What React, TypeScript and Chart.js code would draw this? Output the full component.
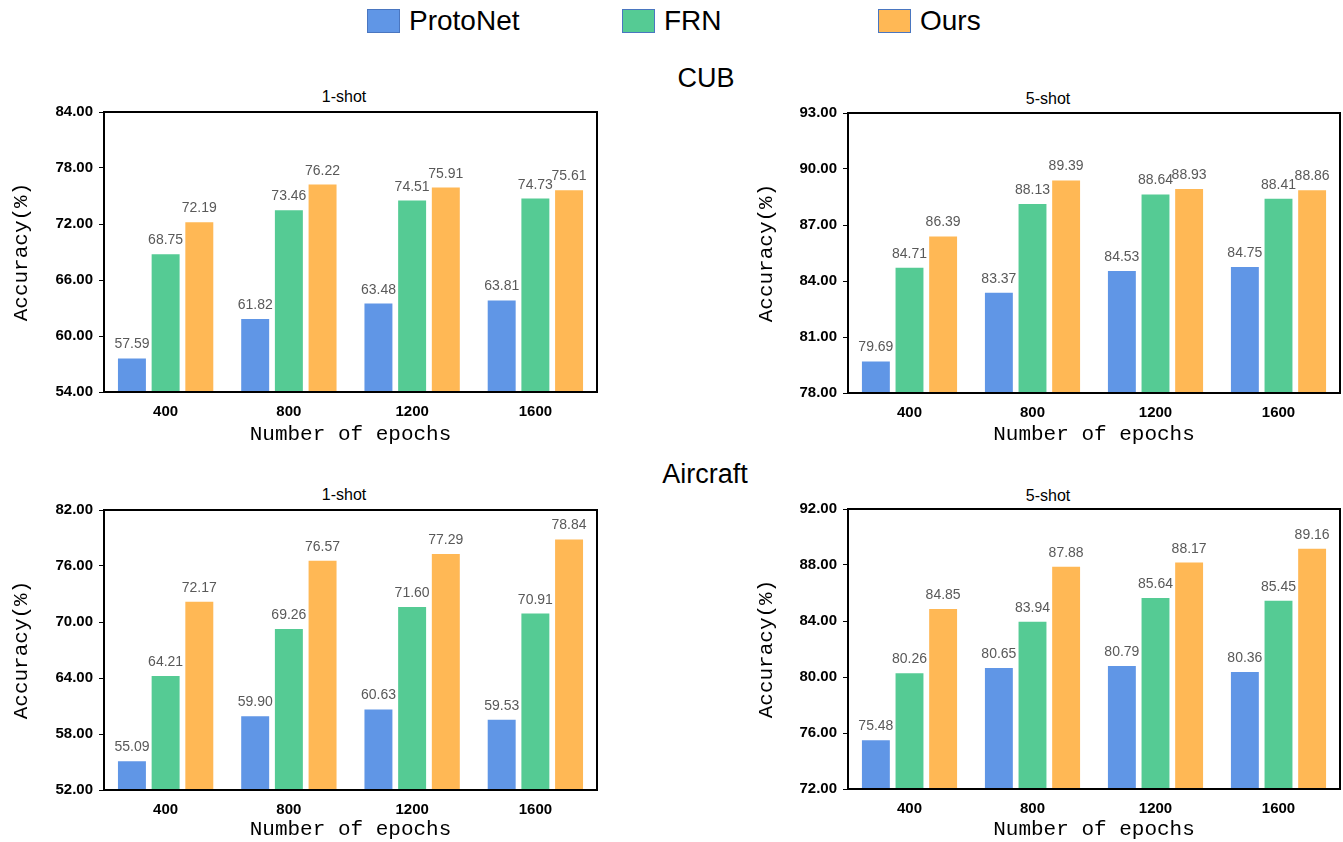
import React, { useEffect, useRef } from "react";
import { Chart, registerables } from "chart.js";
Chart.register(...registerables);

// ---- data ----
const categories = ["400", "800", "1200", "1600"];
const seriesNames = ["ProtoNet", "FRN", "Ours"];
const seriesColors = ["#6096E6", "#55CB94", "#FFB855"];

const cub1Proto = [57.59, 61.82, 63.48, 63.81];
const cub1FRN = [68.75, 73.46, 74.51, 74.73];
const cub1Ours = [72.19, 76.22, 75.91, 75.61];

const cub5Proto = [79.69, 83.37, 84.53, 84.75];
const cub5FRN = [84.71, 88.13, 88.64, 88.41];
const cub5Ours = [86.39, 89.39, 88.93, 88.86];

const air1Proto = [55.09, 59.9, 60.63, 59.53];
const air1FRN = [64.21, 69.26, 71.6, 70.91];
const air1Ours = [72.17, 76.57, 77.29, 78.84];

const air5Proto = [75.48, 80.65, 80.79, 80.36];
const air5FRN = [80.26, 83.94, 85.64, 85.45];
const air5Ours = [84.85, 87.88, 88.17, 89.16];

const cub1Range = [54, 84, 6];
const cub5Range = [78, 93, 3];
const air1Range = [52, 82, 6];
const air5Range = [72, 92, 4];

const xTitle = "Number of epochs";
const yTitle = "Accuracy(%)";

const MONO = '"Liberation Mono", "DejaVu Sans Mono", monospace';
const SANS = '"Liberation Sans", Arial, sans-serif';

const valueLabels = {
  id: "valueLabels",
  afterDatasetsDraw(chart: any) {
    const ctx = chart.ctx;
    ctx.save();
    ctx.font = `14px ${SANS}`;
    ctx.fillStyle = "#595959";
    ctx.textAlign = "center";
    ctx.textBaseline = "alphabetic";
    chart.data.datasets.forEach((ds: any, i: number) => {
      const meta = chart.getDatasetMeta(i);
      meta.data.forEach((bar: any, j: number) => {
        ctx.fillText(Number(ds.data[j]).toFixed(2), bar.x, bar.y - 10);
      });
    });
    ctx.restore();
  },
};

const frame = {
  id: "frame",
  afterDraw(chart: any) {
    const { left, top, right, bottom } = chart.chartArea;
    const ctx = chart.ctx;
    ctx.save();
    ctx.strokeStyle = "#000";
    ctx.lineWidth = 2;
    ctx.strokeRect(left, top, right - left, bottom - top);
    ctx.restore();
  },
};

type Panel = {
  left: number;
  top: number;
  width: number;
  height: number;
  yw: number;
  xh: number;
  pt: number;
  pr: number;
  xtpb: number;
  range: number[];
  data: number[][];
};

function BarPanel({ p }: { p: Panel }) {
  const ref = useRef<HTMLCanvasElement>(null);
  useEffect(() => {
    if (!ref.current) return;
    const chart = new Chart(ref.current, {
      type: "bar",
      data: {
        labels: categories,
        datasets: p.data.map((d, i) => ({
          label: seriesNames[i],
          data: d,
          backgroundColor: seriesColors[i],
          borderWidth: 0,
          categoryPercentage: 0.82,
          barPercentage: 0.83,
        })),
      },
      options: {
        responsive: false,
        animation: false,
        devicePixelRatio: 1,
        layout: { padding: { top: p.pt, right: p.pr, left: 0, bottom: 0 } },
        plugins: { legend: { display: false }, tooltip: { enabled: false }, title: { display: false } },
        scales: {
          x: {
            grid: { display: false, drawTicks: true, tickLength: 8 },
            border: { display: false },
            ticks: { color: "#000", font: { family: SANS, size: 15, weight: "bold" }, padding: 3 },
            title: {
              display: true,
              text: xTitle,
              color: "#000",
              font: { family: MONO, size: 21 },
              padding: { top: 0, bottom: p.xtpb },
            },
            afterFit: (s: any) => {
              s.height = p.xh;
            },
          },
          y: {
            min: p.range[0],
            max: p.range[1],
            grid: { display: true, drawOnChartArea: false, drawTicks: true, tickLength: 5, color: "#000", lineWidth: 1 },
            border: { display: false },
            ticks: {
              stepSize: p.range[2],
              color: "#000",
              padding: 6,
              font: { family: SANS, size: 15, weight: "bold" },
              callback: (v: any) => Number(v).toFixed(2),
            },
            title: {
              display: true,
              text: yTitle,
              color: "#000",
              font: { family: MONO, size: 21 },
              padding: { top: 9, bottom: 0 },
            },
            afterFit: (s: any) => {
              s.width = p.yw;
            },
          },
        },
      } as any,
      plugins: [valueLabels, frame],
    });
    return () => chart.destroy();
  }, []);
  return (
    <canvas
      ref={ref}
      width={p.width}
      height={p.height}
      style={{ position: "absolute", left: p.left, top: p.top, width: p.width, height: p.height }}
    />
  );
}

const panels: { p: Panel; sub: string; subX: number; subY: number }[] = [
  {
    p: { left: 0, top: 90, width: 610, height: 360, yw: 104, xh: 58, pt: 22, pr: 13, xtpb: 3, range: cub1Range, data: [cub1Proto, cub1FRN, cub1Ours] },
    sub: "1-shot",
    subX: 344,
    subY: 97,
  },
  {
    p: { left: 745, top: 90, width: 598, height: 360, yw: 103, xh: 57, pt: 23, pr: 3, xtpb: 3, range: cub5Range, data: [cub5Proto, cub5FRN, cub5Ours] },
    sub: "5-shot",
    subX: 1048,
    subY: 99,
  },
  {
    p: { left: 0, top: 485, width: 610, height: 357, yw: 104, xh: 52, pt: 25, pr: 13, xtpb: 0, range: air1Range, data: [air1Proto, air1FRN, air1Ours] },
    sub: "1-shot",
    subX: 344,
    subY: 495,
  },
  {
    p: { left: 745, top: 485, width: 598, height: 357, yw: 103, xh: 53, pt: 24, pr: 3, xtpb: 0, range: air5Range, data: [air5Proto, air5FRN, air5Ours] },
    sub: "5-shot",
    subX: 1048,
    subY: 496,
  },
];

const legendX = [367, 622, 878];

export default function App() {
  return (
    <div
      style={{
        position: "absolute",
        left: 0,
        top: 0,
        width: 1343,
        height: 842,
        background: "#fff",
        overflow: "hidden",
        fontFamily: SANS,
      }}
    >
      {seriesNames.map((n, i) => (
        <div key={n} style={{ position: "absolute", left: legendX[i], top: 8, height: 26, display: "flex", alignItems: "center" }}>
          <div
            style={{
              width: 31,
              height: 22,
              background: seriesColors[i],
              border: "1.5px solid #4A76C0",
              boxSizing: "content-box",
            }}
          />
          <span style={{ marginLeft: 9, fontSize: 28, lineHeight: "26px", color: "#000" }}>{n}</span>
        </div>
      ))}
      <div style={{ position: "absolute", left: 606, width: 200, top: 62, textAlign: "center", fontSize: 27, lineHeight: "32px" }}>CUB</div>
      <div style={{ position: "absolute", left: 605, width: 200, top: 458, textAlign: "center", fontSize: 27, lineHeight: "32px" }}>Aircraft</div>
      {panels.map((q, i) => (
        <React.Fragment key={i}>
          <div
            style={{
              position: "absolute",
              left: q.subX - 60,
              width: 120,
              top: q.subY - 10,
              textAlign: "center",
              fontSize: 16,
              lineHeight: "20px",
            }}
          >
            {q.sub}
          </div>
          <BarPanel p={q.p} />
        </React.Fragment>
      ))}
    </div>
  );
}
